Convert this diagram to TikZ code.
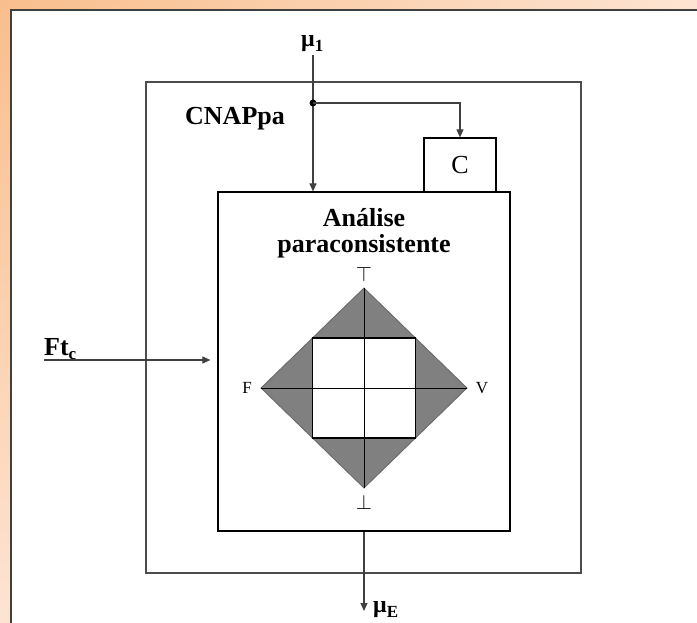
\documentclass[tikz,border=0pt]{standalone}
\usepackage{fontspec}
\setmainfont{Liberation Serif}
\usetikzlibrary{arrows.meta,shadings}

\definecolor{frameorange}{RGB}{249,190,140}
\definecolor{framelight}{RGB}{253,228,210}
\definecolor{framegray}{RGB}{64,64,64}
\definecolor{latticegray}{RGB}{128,128,128}

\newcommand{\sublow}[1]{\raisebox{-5pt}{\fontsize{17}{17}\selectfont #1}}

\begin{document}
\begin{tikzpicture}[x=1pt, y=-1pt, every node/.style={inner sep=0pt},
    block/.style={draw, line width=1.2pt},
    flow/.style={-{Triangle[length=8pt,width=7pt]}, line width=1.1pt, draw=black!75},
    bigtext/.style={font=\fontsize{26}{26}\selectfont\bfseries},
    signal/.style={font=\fontsize{24}{24}\selectfont\bfseries},
    pole/.style={font=\fontsize{17}{17}\selectfont}]
    \useasboundingbox (0,0) rectangle (697,623);

    % slide background
    \shade[upper left=frameorange, upper right=framelight,
           lower left=framelight, lower right=white] (0,0) rectangle (697,623);
    \fill[white] (12,11) rectangle (697,623);
    \draw[framegray, line width=2pt] (11,623) -- (11,10) -- (697,10);

    % blocks
    \node[block, draw=black!70, minimum width=435pt, minimum height=491pt] (cnap) at (363.5,327.5) {};
    \node[block, minimum width=292pt, minimum height=339pt] (analise) at (364,361.5) {};
    \node[block, minimum width=72pt, minimum height=54pt, font=\fontsize{26}{26}\selectfont] (cbox) at (460,165) {C};
    \node[bigtext, anchor=base west] (cnaptitle) at (185,125) {CNAPpa};
    \node[bigtext, align=center, anchor=base] (analisetitle) at (364,252) {Análise\\paraconsistente};

    % lattice
    \coordinate (top) at (364,288);
    \coordinate (bot) at (364,488);
    \coordinate (lft) at (261,388);
    \coordinate (rgt) at (467,388);
    \filldraw[fill=latticegray, draw=black!60, line width=0.8pt] (top) -- (rgt) -- (bot) -- (lft) -- cycle;
    \filldraw[fill=white, draw=black, line width=1.2pt] (312.5,338) rectangle (415.5,438);
    \draw[line width=1pt] (top) -- (bot) (lft) -- (rgt);
    \node[pole, font=\fontsize{20}{20}\selectfont] (toplabel) at (364,274) {$\top$};
    \node[pole, font=\fontsize{20}{20}\selectfont] (botlabel) at (364,502) {$\bot$};
    \node[pole] (flabel) at (247,388) {F};
    \node[pole] (vlabel) at (482,388) {V};

    % signals
    \coordinate (muin) at (313,55);
    \coordinate (split) at (313,103);
    \coordinate (ftin) at (44,360);
    \coordinate (muout) at (364,611);
    \node[signal, anchor=base west] (muone) at (301,47) {μ\sublow{1}};
    \node[bigtext, anchor=base west] (ftc) at (44,355) {Ft\sublow{c}};
    \node[signal, anchor=base west] (mue) at (373,612) {μ\sublow{E}};

    \draw[flow] (muin) -- (muin |- analise.north);
    \fill (split) circle (3.5pt);
    \draw[flow] (split) -| (cbox.north);
    \draw[flow] (ftin) -- ([xshift=-7pt]analise.west |- ftin);
    \draw[flow] (analise.south) -- (muout);
\end{tikzpicture}
\end{document}
